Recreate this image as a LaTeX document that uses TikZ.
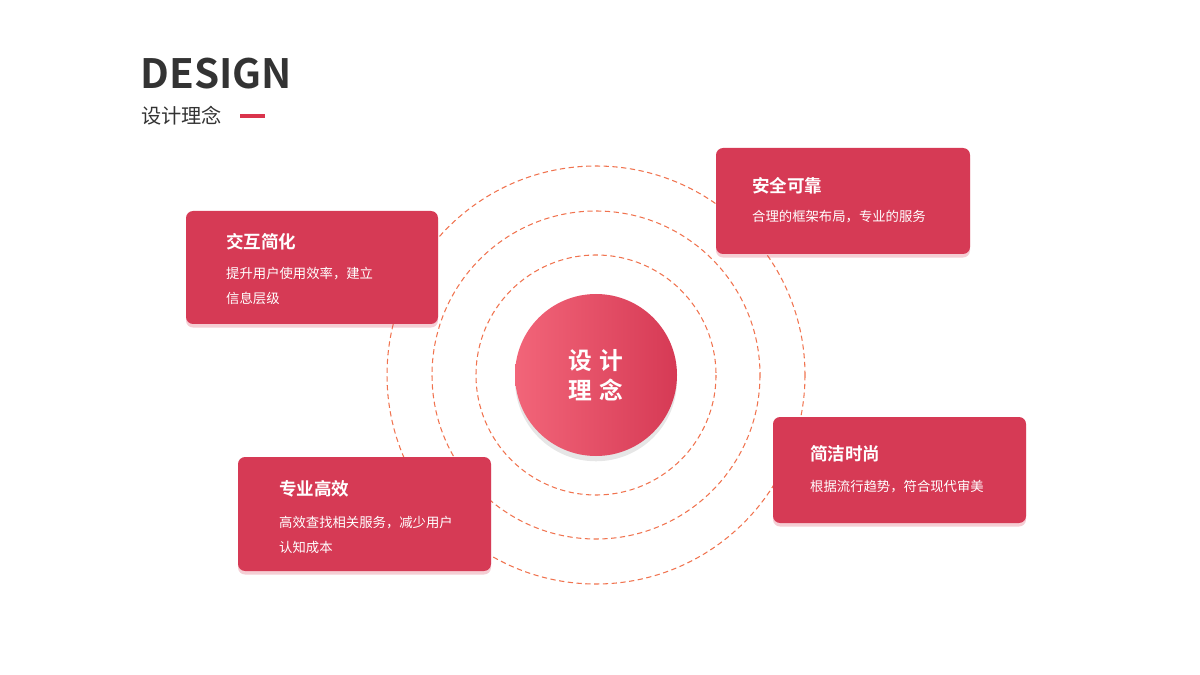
\documentclass[tikz,border=0pt]{standalone}
\usepackage{fontspec}
\setmainfont{Noto Sans CJK SC}[BoldFont={Noto Sans CJK SC Bold}]
\usetikzlibrary{shadows}
\definecolor{cardred}{HTML}{D63A55}
\definecolor{lightred}{HTML}{F26579}
\definecolor{ringred}{HTML}{F0734F}
\tikzset{
  ring/.style={draw=ringred,densely dashed,line width=0.6pt},
  card/.style={fill=cardred,rounded corners=4pt,drop shadow={opacity=0.25,shadow xshift=0pt,shadow yshift=-2pt,fill=cardred}},
  cardtitle/.style={anchor=west,text=white,font=\bfseries\fontsize{10}{12}\selectfont},
  cardtext/.style={anchor=north west,text=white,align=left,font=\fontsize{7.6}{14}\selectfont}
}
\begin{document}
\begin{tikzpicture}[x=0.02cm,y=-0.02cm]
\useasboundingbox (0,0) rectangle (1200,675);
% heading
\node[anchor=west,inner sep=0,font=\bfseries\fontsize{23}{26}\selectfont,text=black!80] (head) at (140,74) {DESIGN};
\node[anchor=west,inner sep=0,font=\fontsize{11.5}{13}\selectfont,text=black!80] (sub) at (141,116) {设计理念};
\draw[cardred!90!red,line width=2.2pt] (240,116) -- (265,116);
% rings
\coordinate (o) at (596,375);
\draw[ring] (o) circle (209);
\draw[ring] (o) circle (164);
\draw[ring] (o) circle (120);
\shade[left color=lightred,right color=cardred,drop shadow={opacity=0.2,shadow xshift=0pt,shadow yshift=-3pt}] (o) circle (81);
\node[text=white,font=\bfseries\fontsize{13.5}{17}\selectfont,align=center] (core) at (o) {设\,\,计\\理\,\,念};
% cards
\fill[card] (186,211) rectangle (438,324);
\node[cardtitle] (t1) at (220,242) {交互简化};
\node[cardtext] (d1) at (220,261) {提升用户使用效率，建立\\信息层级};
\fill[card] (716,148) rectangle (970,254);
\node[cardtitle] (t2) at (746,186) {安全可靠};
\node[cardtext] (d2) at (746,204) {合理的框架布局，专业的服务};
\fill[card] (773,417) rectangle (1026,523);
\node[cardtitle] (t3) at (804,454) {简洁时尚};
\node[cardtext] (d3) at (804,474) {根据流行趋势，符合现代审美};
\fill[card] (238,457) rectangle (491,571);
\node[cardtitle] (t4) at (273,489) {专业高效};
\node[cardtext] (d4) at (273,510) {高效查找相关服务，减少用户\\认知成本};
\end{tikzpicture}
\end{document}
